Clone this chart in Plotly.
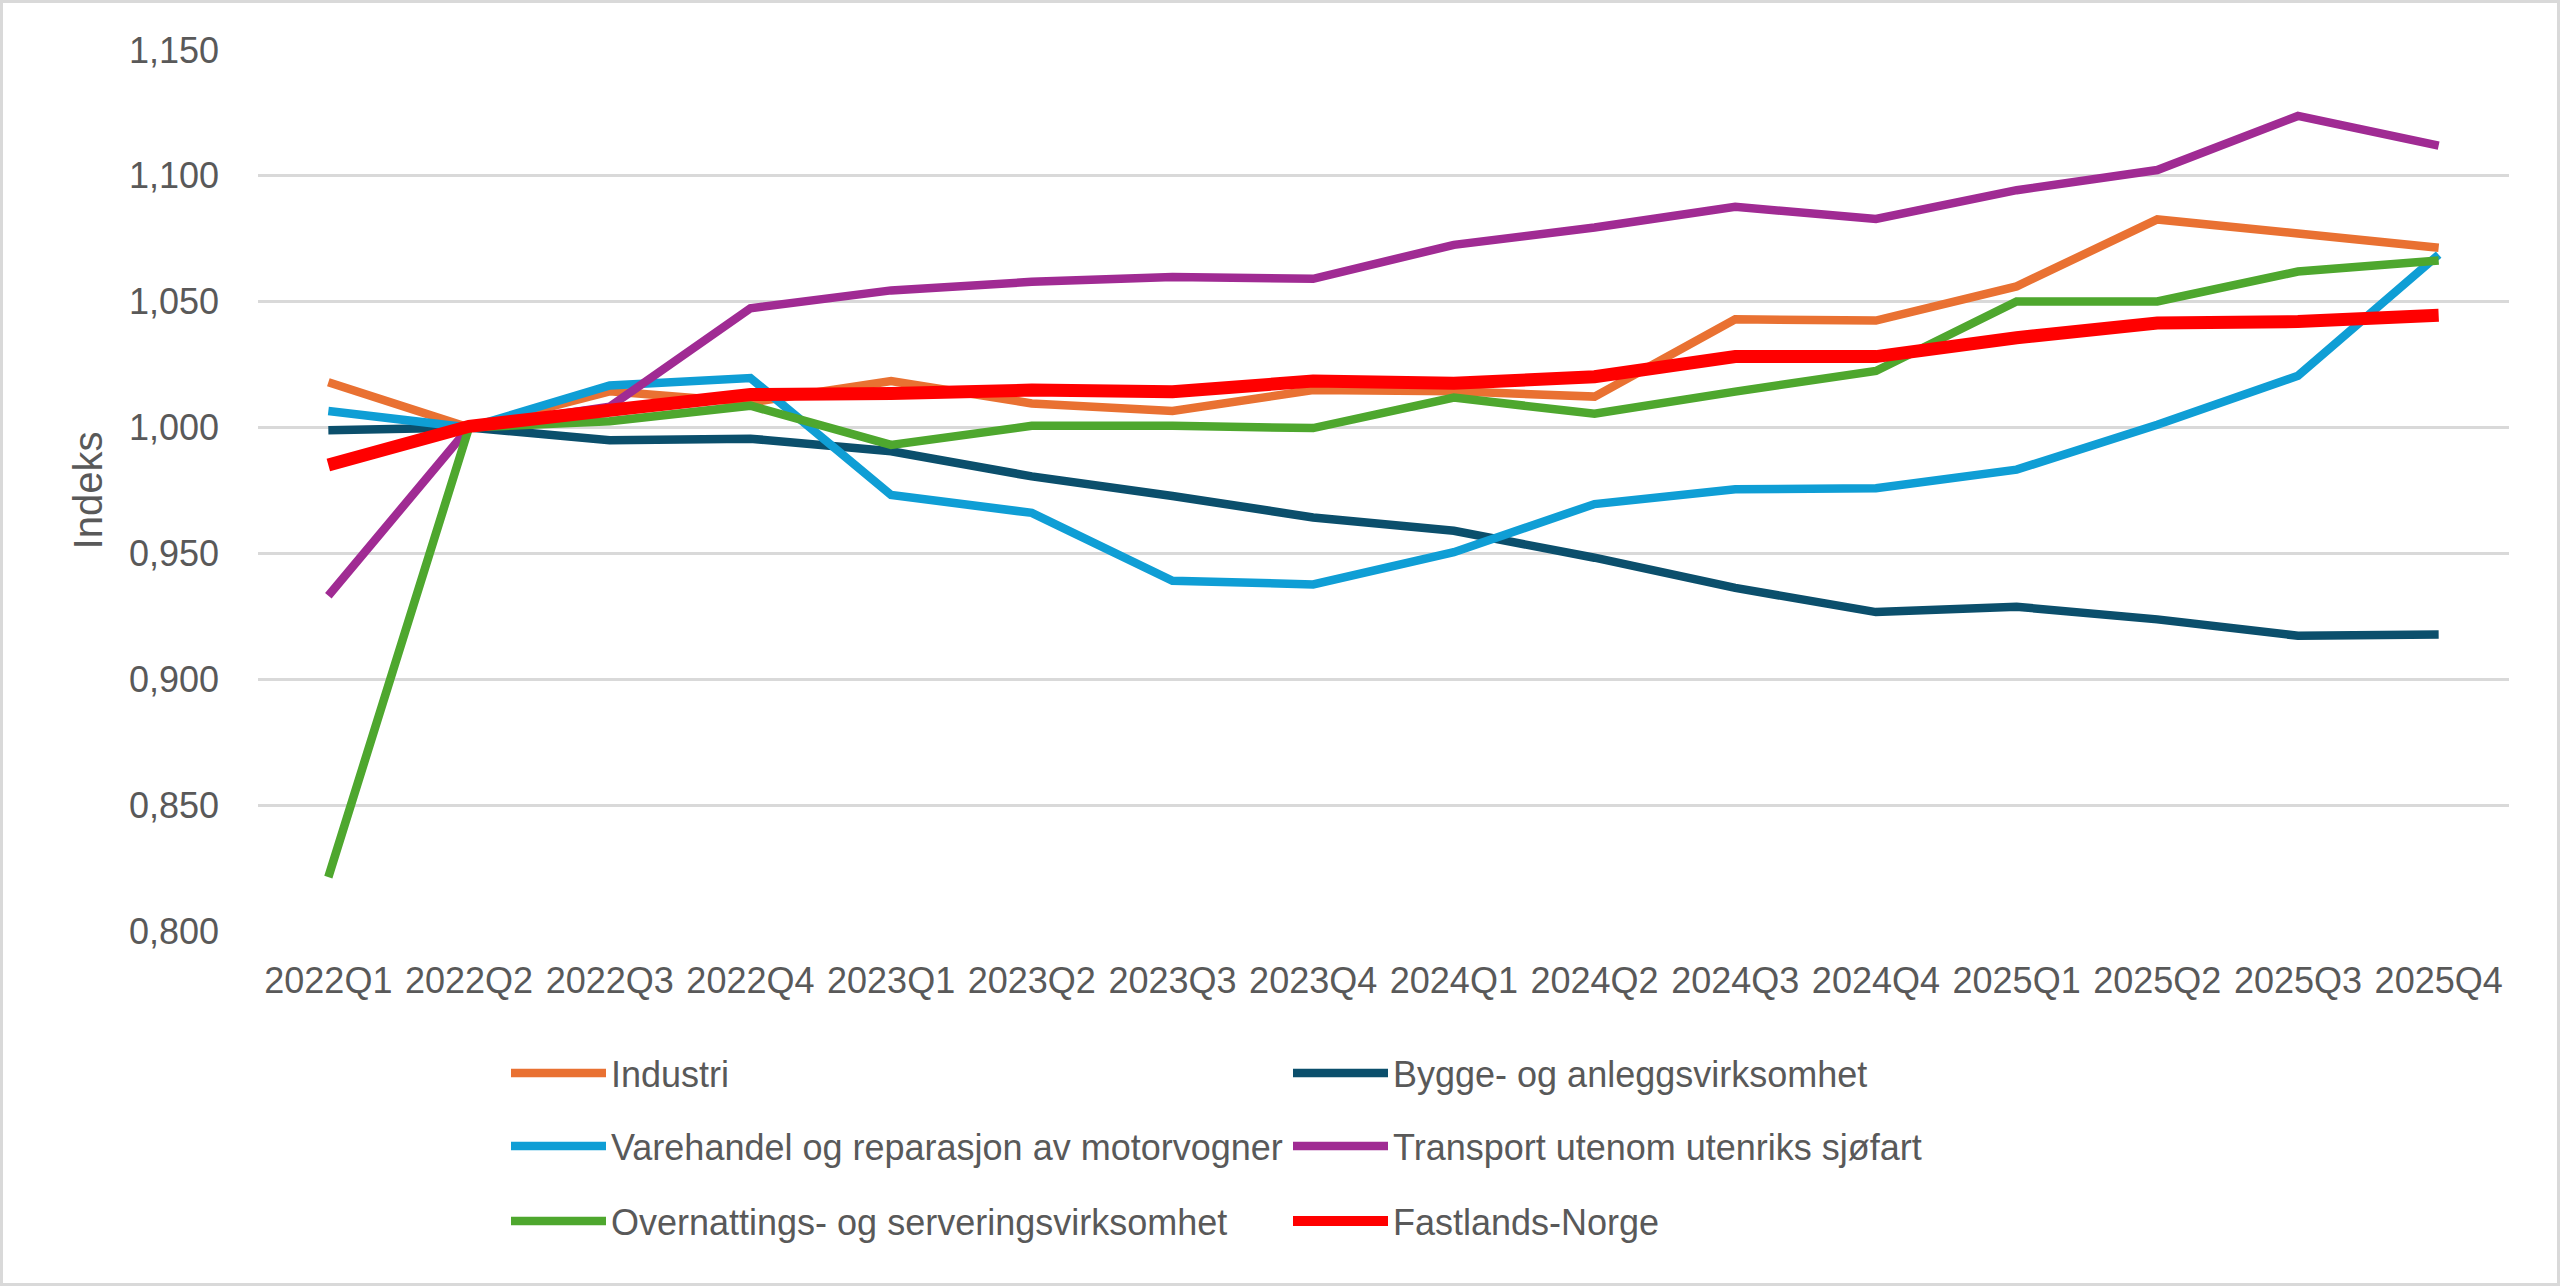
import plotly.graph_objects as go

quarters = ["2022Q1", "2022Q2", "2022Q3", "2022Q4", "2023Q1", "2023Q2", "2023Q3", "2023Q4",
            "2024Q1", "2024Q2", "2024Q3", "2024Q4", "2025Q1", "2025Q2", "2025Q3", "2025Q4"]

industri = [1.0180, 1.0000, 1.0144, 1.0100, 1.0185, 1.0096, 1.0066, 1.0149,
            1.0144, 1.0123, 1.0430, 1.0425, 1.0561, 1.0827, 1.0771, 1.0714]
bygge = [0.9989, 1.0000, 0.9950, 0.9956, 0.9906, 0.9806, 0.9728, 0.9643,
         0.9590, 0.9483, 0.9363, 0.9267, 0.9288, 0.9238, 0.9173, 0.9178]
varehandel = [1.0066, 1.0000, 1.0167, 1.0197, 0.9732, 0.9661, 0.9391, 0.9377,
              0.9505, 0.9696, 0.9755, 0.9759, 0.9833, 1.0011, 1.0206, 1.0687]
transport = [0.9332, 1.0000, 1.0083, 1.0474, 1.0545, 1.0579, 1.0598, 1.0591,
             1.0726, 1.0795, 1.0877, 1.0829, 1.0943, 1.1023, 1.1238, 1.1120]
overnatting = [0.8214, 1.0000, 1.0025, 1.0087, 0.9931, 1.0007, 1.0007, 0.9998,
               1.0119, 1.0055, 1.0143, 1.0225, 1.0501, 1.0501, 1.0620, 1.0664]
fastland = [0.9851, 1.0005, 1.0069, 1.0131, 1.0135, 1.0149, 1.0142, 1.0185,
            1.0176, 1.0202, 1.0282, 1.0282, 1.0357, 1.0415, 1.0421, 1.0446]

series = [
    ("Industri", industri, "#E97132", 8.5, "legend"),
    ("Bygge- og anleggsvirksomhet", bygge, "#0B4F6C", 8.5, "legend"),
    ("Varehandel og reparasjon av motorvogner", varehandel, "#0F9ED5", 8.5, "legend2"),
    ("Transport utenom utenriks sjøfart", transport, "#A02B93", 8.5, "legend2"),
    ("Overnattings- og serveringsvirksomhet", overnatting, "#4EA72E", 8.5, "legend3"),
    ("Fastlands-Norge", fastland, "#FF0000", 13, "legend3"),
]

W, H = 2560, 1286
ML, MR, MT, MB = 258, 51, 50, 355
PW = W - ML - MR
PH = H - MT - MB

FONT = "Liberation Sans, Arial, sans-serif"
GREY = "#595959"

fig = go.Figure()
for name, vals, color, width, lg in series:
    fig.add_trace(go.Scatter(
        x=quarters, y=vals, name=name, mode="lines",
        line=dict(color=color, width=width),
        legend=lg,
    ))

def px_x(px):
    return (px - ML) / PW

def px_y(py):
    return (H - MB - py) / PH

legend_common = dict(
    orientation="h", entrywidth=672, entrywidthmode="pixels",
    x=px_x(506), xanchor="left", yanchor="middle",
    font=dict(family=FONT, size=36, color=GREY),
    bgcolor="rgba(0,0,0,0)", itemwidth=95, traceorder="normal",
)

fig.update_layout(
    width=W, height=H,
    margin=dict(l=ML, r=MR, t=MT, b=MB, autoexpand=False),
    paper_bgcolor="white", plot_bgcolor="white",
    separators=",.",
    font=dict(family=FONT, size=36, color=GREY),
    showlegend=True,
    legend=dict(legend_common, y=px_y(1073)),
    legend2=dict(legend_common, y=px_y(1146)),
    legend3=dict(legend_common, y=px_y(1221)),
    xaxis=dict(
        type="category", range=[-0.5, 15.5], showgrid=False, showline=False,
        zeroline=False, ticks="", ticklabelstandoff=25,
        tickfont=dict(family=FONT, size=36, color=GREY),
    ),
    yaxis=dict(
        range=[0.8, 1.15], dtick=0.05, tick0=0.8, tickformat=".3f",
        showgrid=True, gridcolor="#D9D9D9", gridwidth=2.5,
        zeroline=False, showline=False, ticks="", ticklabelstandoff=38,
        tickfont=dict(family=FONT, size=36, color=GREY),
        title=dict(text="Indeks", font=dict(family=FONT, size=40, color=GREY), standoff=13),
    ),
    shapes=[dict(
        type="rect", xref="paper", yref="paper",
        x0=px_x(1.5), x1=px_x(W - 1.5), y0=px_y(H - 1.5), y1=px_y(1.5),
        line=dict(color="#D9D9D9", width=3), fillcolor="rgba(0,0,0,0)", layer="below",
    )],
)

fig.write_html("out.html", config={"displayModeBar": False},
               post_script="document.body.style.margin='0px';")
